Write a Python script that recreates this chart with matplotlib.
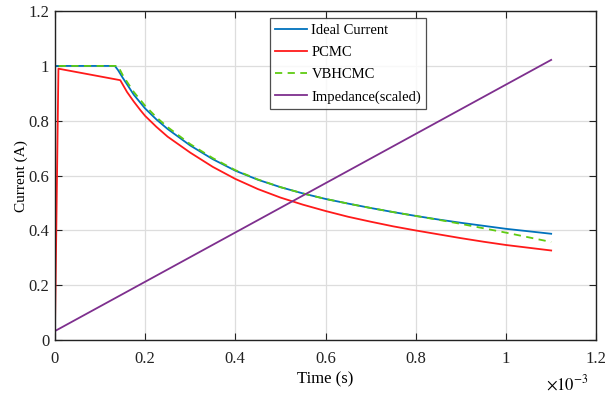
import matplotlib.pyplot as plt

plt.rcParams['font.family'] = ['Liberation Serif', 'DejaVu Serif']
plt.rcParams['mathtext.fontset'] = 'stix'

# Time in ms (axis shown with x10^-3 multiplier)
t_ideal = [0, 0, 0.133, 0.14, 0.15, 0.16, 0.175, 0.2, 0.225, 0.25, 0.3, 0.35, 0.4, 0.45, 0.5,
           0.55, 0.6, 0.65, 0.7, 0.75, 0.8, 0.85, 0.9, 0.95, 1.0, 1.05, 1.1]
i_ideal = [0, 1.0, 1.0, 0.985, 0.958, 0.933, 0.895, 0.845, 0.805, 0.77, 0.71, 0.66, 0.618, 0.585, 0.558,
           0.535, 0.515, 0.498, 0.482, 0.467, 0.453, 0.440, 0.428, 0.417, 0.406, 0.397, 0.388]

t_pcmc = [0, 0.008, 0.145, 0.16, 0.175, 0.19, 0.2, 0.225, 0.25, 0.3, 0.35, 0.4, 0.45, 0.5, 0.55,
          0.6, 0.65, 0.7, 0.75, 0.8, 0.85, 0.9, 0.95, 1.0, 1.05, 1.1]
i_pcmc = [0, 0.99, 0.948, 0.905, 0.87, 0.838, 0.818, 0.778, 0.742, 0.684, 0.632, 0.588, 0.551, 0.52, 0.494,
          0.471, 0.45, 0.432, 0.415, 0.4, 0.386, 0.372, 0.359, 0.347, 0.337, 0.327]

t_vb = [0, 0, 0.14, 0.15, 0.16, 0.175, 0.2, 0.225, 0.25, 0.3, 0.35, 0.4, 0.45, 0.5, 0.55,
        0.6, 0.65, 0.7, 0.75, 0.8, 0.85, 0.9, 0.95, 1.0, 1.05, 1.1]
i_vb = [0, 1.0, 1.0, 0.968, 0.942, 0.905, 0.855, 0.813, 0.777, 0.715, 0.664, 0.62, 0.586, 0.558, 0.535,
        0.515, 0.498, 0.482, 0.467, 0.453, 0.439, 0.424, 0.408, 0.392, 0.375, 0.358]

t_imp = [0, 1.1]
z_imp = [0.033, 1.022]

fig, ax = plt.subplots(figsize=(6.16, 3.96), dpi=100)
fig.subplots_adjust(left=0.089, right=0.968, bottom=0.141, top=0.972)

ax.plot(t_ideal, i_ideal, color='#0072BD', lw=1.3, label='Ideal Current')
ax.plot(t_pcmc, i_pcmc, color='#FF1A1A', lw=1.3, label='PCMC')
ax.plot(t_vb, i_vb, color='#5FCB12', lw=1.3, ls=(0, (4, 3)), label='VBHCMC')
ax.plot(t_imp, z_imp, color='#7E2F8E', lw=1.3, label='Impedance(scaled)')

ticks = [0, 0.2, 0.4, 0.6, 0.8, 1.0, 1.2]
tick_labels = ['0', '0.2', '0.4', '0.6', '0.8', '1', '1.2']
ax.set_xlim(0, 1.2)
ax.set_ylim(0, 1.2)
ax.set_xticks(ticks)
ax.set_xticklabels(tick_labels)
ax.set_yticks(ticks)
ax.set_yticklabels(tick_labels)
ax.tick_params(direction='in', top=True, right=True, length=5, labelsize=12, colors='#222222')
ax.tick_params(axis='x', pad=8)
ax.tick_params(axis='y', pad=4)
ax.grid(True, color='#dddddd', lw=0.9)
for s in ax.spines.values():
    s.set_color('#222222')
    s.set_linewidth(1.0)

ax.set_xlabel('Time (s)', fontsize=12, labelpad=3)
ax.set_ylabel('Current (A)', fontsize=11, labelpad=0)
ax.text(1.135, -0.16, r'$\times10^{-3}$', fontsize=12, ha='center', va='center',
        transform=ax.transData, clip_on=False)

leg = ax.legend(loc='upper left', bbox_to_anchor=(0.397, 0.978), fontsize=10.5, frameon=True,
                fancybox=False, edgecolor='#222222', handlelength=2.2, handletextpad=0.3,
                borderpad=0.35, labelspacing=0.62, borderaxespad=0)
leg.get_frame().set_linewidth(0.9)

plt.savefig('out.png')
